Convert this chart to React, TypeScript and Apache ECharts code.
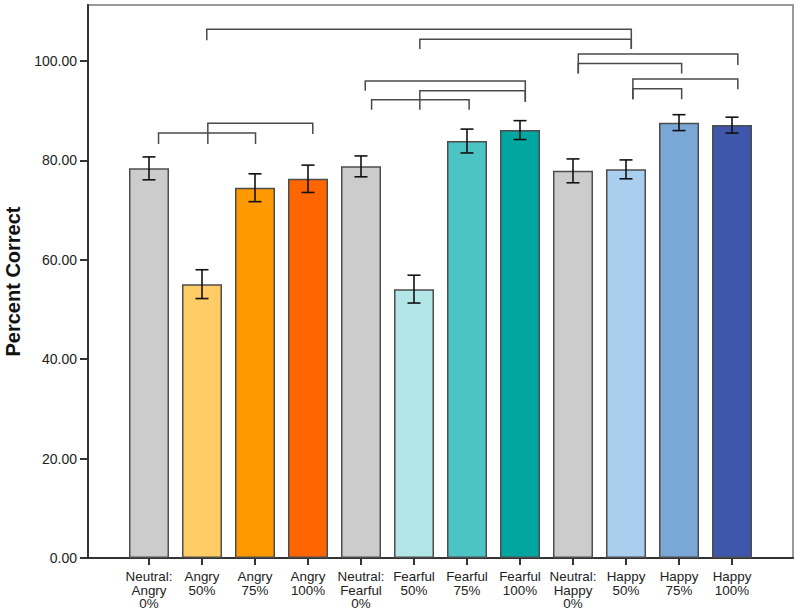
import React, { useEffect, useRef } from "react";
import * as echarts from "echarts";

const categories = [
  "Neutral:\nAngry\n0%",
  "Angry\n50%",
  "Angry\n75%",
  "Angry\n100%",
  "Neutral:\nFearful\n0%",
  "Fearful\n50%",
  "Fearful\n75%",
  "Fearful\n100%",
  "Neutral:\nHappy\n0%",
  "Happy\n50%",
  "Happy\n75%",
  "Happy\n100%",
];
const means = [78.4, 55.1, 74.5, 76.3, 78.8, 54.1, 83.9, 86.1, 77.9, 78.2, 87.6, 87.1];
const errors = [2.3, 2.9, 2.8, 2.75, 2.1, 2.8, 2.4, 1.9, 2.4, 1.9, 1.6, 1.6];
const barColors = [
  "#cccccc", "#ffcc66", "#ff9900", "#ff6600",
  "#cccccc", "#b3e6e6", "#4dc4c4", "#00a69f",
  "#cccccc", "#aacfee", "#79a8d6", "#3f57aa",
];
const yTicks = [0, 20, 40, 60, 80, 100];
// significance brackets: [xStart, xEnd, yTop, yLeftEnd, yRightEnd] in data units
const brackets = [
  [1.09, 9.1, 106.4, 104.2, 102.4],
  [5.11, 9.1, 104.4, 102.4, 102.4],
  [4.08, 7.1, 96.0, 94.0, 91.8],
  [5.11, 7.1, 94.0, 90.2, 91.8],
  [4.2, 6.04, 92.2, 90.2, 90.2],
  [8.1, 11.11, 101.4, 97.5, 99.2],
  [8.1, 10.05, 99.5, 97.5, 97.5],
  [9.13, 11.11, 96.4, 92.3, 94.3],
  [9.13, 10.05, 94.4, 92.3, 92.3],
  [0.18, 2.01, 85.5, 83.3, 83.3],
  [1.11, 3.09, 87.5, 83.3, 85.3],
];

const FONT = "Liberation Sans, Arial, sans-serif";

export default function App() {
  const ref = useRef<HTMLDivElement>(null);
  useEffect(() => {
    if (!ref.current) return;
    const chart = echarts.init(ref.current, null, { renderer: "svg" });
    const idx = categories.map((_, i) => i);
    chart.setOption({
      animation: false,
      backgroundColor: "#ffffff",
      grid: {
        left: 88,
        right: 7,
        top: 5,
        bottom: 57,
        show: true,
        borderColor: "#9a9a9a",
        borderWidth: 2,
        containLabel: false,
        outerBoundsMode: "none",
      },
      xAxis: {
        type: "value",
        min: -1.151,
        max: 12.151,
        splitLine: { show: false },
        axisLine: { show: true, onZero: false, lineStyle: { color: "#333333", width: 2 } },
        axisTick: {
          show: true,
          length: 7,
          customValues: idx,
          lineStyle: { color: "#333333", width: 2 },
        },
        axisLabel: {
          customValues: idx,
          formatter: (v: number) => categories[Math.round(v)] ?? "",
          fontFamily: FONT,
          fontSize: 13.4,
          lineHeight: 13.5,
          color: "#222222",
          margin: 12,
        },
      },
      yAxis: {
        type: "value",
        min: 0,
        max: 111.27,
        splitLine: { show: false },
        axisLine: { show: true, onZero: false, lineStyle: { color: "#333333", width: 2 } },
        axisTick: {
          show: true,
          length: 8,
          customValues: yTicks,
          lineStyle: { color: "#333333", width: 2 },
        },
        axisLabel: {
          customValues: yTicks,
          formatter: (v: number) => v.toFixed(2),
          fontFamily: FONT,
          fontSize: 14,
          color: "#222222",
          margin: 11,
        },
        name: "Percent Correct",
        nameLocation: "middle",
        nameRotate: 90,
        nameGap: 64,
        nameTextStyle: {
          fontFamily: FONT,
          fontSize: 20,
          fontWeight: "bold",
          color: "#111111",
        },
      },
      series: [
        {
          type: "bar",
          barWidth: 40,
          data: means.map((m, i) => ({
            value: [i, m],
            itemStyle: { color: barColors[i] },
          })),
          itemStyle: { borderColor: "#4d4d4d", borderWidth: 1.5 },
          z: 2,
        },
        {
          type: "custom",
          z: 3,
          data: means.map((m, i) => [i, m - errors[i], m + errors[i]]),
          renderItem: (params: any, api: any) => {
            const lo = api.coord([api.value(0), api.value(1)]);
            const hi = api.coord([api.value(0), api.value(2)]);
            const cap = 6.5;
            const style = { stroke: "#111111", lineWidth: 1.6 };
            return {
              type: "group",
              children: [
                { type: "line", shape: { x1: lo[0], y1: lo[1], x2: hi[0], y2: hi[1] }, style },
                { type: "line", shape: { x1: hi[0] - cap, y1: hi[1], x2: hi[0] + cap, y2: hi[1] }, style },
                { type: "line", shape: { x1: lo[0] - cap, y1: lo[1], x2: lo[0] + cap, y2: lo[1] }, style },
              ],
            };
          },
        },
        {
          type: "custom",
          z: 3,
          data: brackets,
          renderItem: (params: any, api: any) => {
            const x1 = api.value(0);
            const x2 = api.value(1);
            const yt = api.value(2);
            const yl = api.value(3);
            const yr = api.value(4);
            const p1 = api.coord([x1, yl]);
            const p2 = api.coord([x1, yt]);
            const p3 = api.coord([x2, yt]);
            const p4 = api.coord([x2, yr]);
            return {
              type: "polyline",
              shape: { points: [p1, p2, p3, p4] },
              style: { stroke: "#4a4a4a", lineWidth: 1.5, fill: "none" },
            };
          },
        },
      ],
    });
    return () => chart.dispose();
  }, []);
  return (
    <div
      ref={ref}
      style={{ position: "fixed", left: 0, top: 0, width: 800, height: 615 }}
    />
  );
}
